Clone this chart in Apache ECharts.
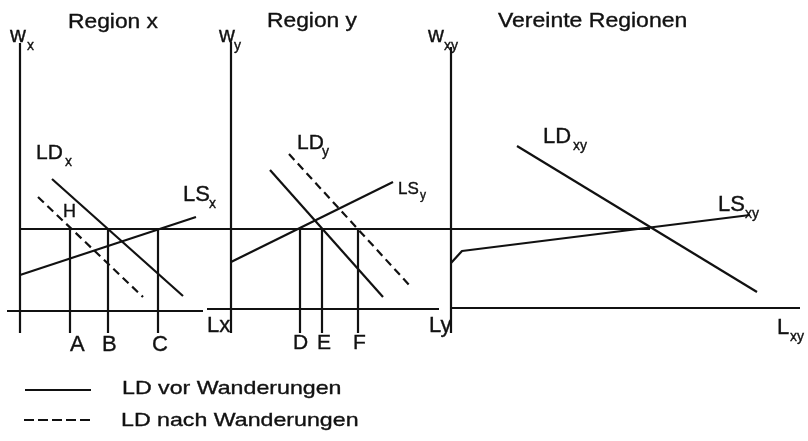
<!DOCTYPE html>
<html>
<head>
<meta charset="utf-8">
<script src="https://cdn.jsdelivr.net/npm/echarts@6/dist/echarts.min.js"></script>
<style>
  html, body { margin: 0; padding: 0; background: #fff; }
  #chart { width: 808px; height: 441px; }
</style>
</head>
<body>
<div id="chart"></div>
<script>
// diagram units: x to the right, y (wage) upwards, same scale as the picture
var baseLevel = 108;   // lower end of the drop lines / axes
var wageLevel = 212;   // common wage before migration

// axes of the three panels
var axisWx = [[20, 108], [20, 398]];
var axisLx = [[7, 130], [203, 130]];
var axisWy = [[231, 108], [231, 399]];
var axisLy = [[207, 132], [439, 132]];
var axisWxy = [[451, 108], [451, 394]];
var axisLxy = [[451, 133], [800, 133]];
var wageLine = [[20, wageLevel], [650, wageLevel]];

// Region x
var lsX = [[20, 166], [196, 224]];
var ldX = [[52, 262], [183, 145]];
var ldXafter = [[38, 244], [143, 144]];
var qtyX = [70, 108, 158];           // A, B, C
var qtyXLabels = ["A", "B", "C"];

// Region y
var lsY = [[231, 179], [393, 259]];
var ldY = [[270, 271], [383, 144]];
var ldYafter = [[289, 287], [411, 154]];
var qtyY = [300, 322, 358];          // D, E, F
var qtyYLabels = ["D", "E", "F"];

// Vereinte Regionen
var lsXY = [[451, 178], [462, 190], [750, 226]];
var ldXY = [[517, 295], [757, 149]];

// legend
var legendSolid = [[25, 51], [91, 51]];
var legendDashed = [[24, 21], [91, 21]];
var legendTexts = ["LD vor Wanderungen", "LD nach Wanderungen"];

var INK = "#111";
var FONT = "'Liberation Sans', Arial, sans-serif";

function seg(data, dash) {
  return {
    type: "line",
    data: data,
    symbol: "none",
    silent: true,
    animation: false,
    lineStyle: {
      color: INK,
      width: 2.2,
      type: dash || "solid"
    }
  };
}

var series = [
  seg(axisWx), seg(axisLx), seg(axisWy), seg(axisLy), seg(axisWxy), seg(axisLxy),
  seg(wageLine),
  seg(lsX), seg(ldX), seg(ldXafter, [8, 5]),
  seg(lsY), seg(ldY), seg(ldYafter, [8, 5]),
  seg(lsXY), seg(ldXY),
  seg(legendSolid), seg(legendDashed, [10, 4])
];
qtyX.concat(qtyY).forEach(function (q) {
  series.push(seg([[q, baseLevel], [q, wageLevel]]));
});

// text helper: left x, baseline y (pixels)
function txt(str, x, base, size, sx) {
  return {
    type: "text",
    x: x,
    y: base - size * 0.31,
    scaleX: sx || 1,
    silent: true,
    style: {
      text: str,
      fill: INK,
      fontFamily: FONT,
      fontSize: size,
      textVerticalAlign: "middle",
      stroke: INK,
      lineWidth: 0.35
    }
  };
}

var texts = [
  txt("Region x", 68, 29, 20, 1.14),
  txt("Region y", 267, 28, 20, 1.14),
  txt("Vereinte Regionen", 498, 28, 20, 1.15),

  txt("w", 10, 43, 22), txt("x", 27, 50, 14),
  txt("w", 219, 43, 22), txt("y", 234, 50, 14),
  txt("w", 428, 43, 22), txt("xy", 444, 50, 14),

  txt("LD", 36, 160, 21), txt("x", 65, 166, 14),
  txt("H", 63, 218, 18),
  txt("LS", 183, 202, 22), txt("x", 209, 208, 14),
  txt("Lx", 207, 333, 22),

  txt("LD", 297, 150, 21), txt("y", 322, 156, 14),
  txt("LS", 398, 195, 17), txt("y", 420, 199, 12),
  txt("Ly", 429, 333, 22),

  txt("LD", 543, 144, 22), txt("xy", 573, 150, 14),
  txt("LS", 718, 212, 22), txt("xy", 745, 218, 14),
  txt("L", 777, 335, 22), txt("xy", 790, 341, 14),

  txt(legendTexts[0], 122, 395, 19, 1.22),
  txt(legendTexts[1], 121, 427, 19, 1.22)
];
var labelXs = [70, 102, 152];
qtyXLabels.forEach(function (s, i) { texts.push(txt(s, labelXs[i], 352, 22)); });
var labelYs = [293, 317, 353];
qtyYLabels.forEach(function (s, i) { texts.push(txt(s, labelYs[i], 350, 21)); });

var myChart = echarts.init(document.getElementById("chart"));
myChart.setOption({
  backgroundColor: "#fff",
  animation: false,
  grid: { left: 0, right: 0, top: 0, bottom: 0 },
  xAxis: { type: "value", min: 0, max: 808, show: false },
  yAxis: { type: "value", min: 0, max: 441, show: false },
  series: series,
  graphic: texts
});
</script>
</body>
</html>
